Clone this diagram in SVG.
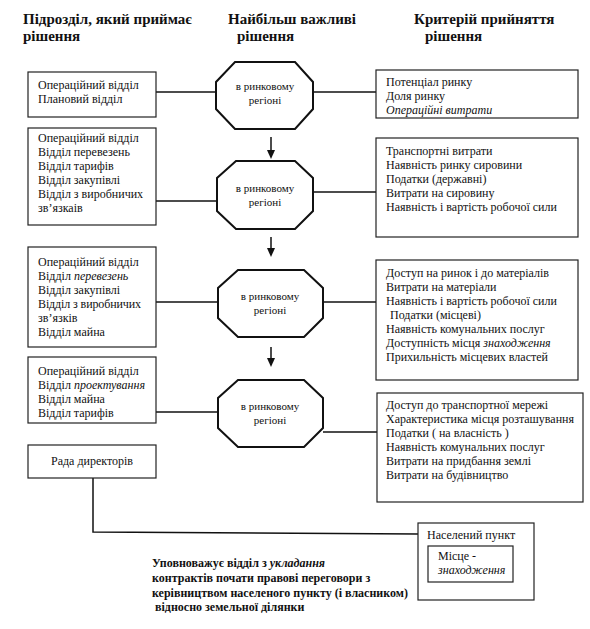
<svg xmlns="http://www.w3.org/2000/svg" width="590" height="629" viewBox="0 0 590 629" font-family="'Times New Roman', 'Liberation Serif', Tinos, 'DejaVu Serif', serif">
<style>
text{font-family:"Times New Roman","Liberation Serif",Tinos,"DejaVu Serif",serif;fill:#111}
.h{font-size:15px;font-weight:bold}
.t{font-size:12px}
.o{font-size:11px;text-anchor:middle}
.b{font-size:12px;font-weight:bold}
.i{font-style:italic}
.box{fill:none;stroke:#222;stroke-width:1.2}
.oct{fill:#fff;stroke:#111;stroke-width:2}
.ln{fill:none;stroke:#111;stroke-width:1.5}
.ah{fill:#111}
</style>
<rect width="590" height="629" fill="#fff"/>

<g id="headers">
<text class="h" x="23" y="24">Підрозділ,  який приймає</text>
<text class="h" x="23" y="41">рішення</text>
<text class="h" x="228" y="24">Найбільш  важливі</text>
<text class="h" x="237" y="41">рішення</text>
<text class="h" x="414" y="24">Критерій  прийняття</text>
<text class="h" x="425" y="41">рішення</text>
</g>

<g id="connectors">
<line class="ln" x1="156" y1="92" x2="216" y2="92"/>
<line class="ln" x1="313" y1="92" x2="376" y2="92"/>
<line class="ln" x1="156" y1="201" x2="217" y2="201"/>
<line class="ln" x1="313" y1="192" x2="376" y2="192"/>
<line class="ln" x1="156" y1="302" x2="218" y2="302"/>
<line class="ln" x1="323" y1="302" x2="376" y2="302"/>
<line class="ln" x1="156" y1="412" x2="218" y2="412"/>
<line class="ln" x1="323" y1="432" x2="377" y2="432"/>
<polyline class="ln" points="93,478 93,532 418,534"/>
<line class="ln" x1="271" y1="137" x2="271" y2="152"/>
<line class="ln" x1="271" y1="237" x2="271" y2="250"/>
<line class="ln" x1="271" y1="347" x2="271" y2="360"/>
<path class="ah" d="M267,150 L275,150 L271,159 Z"/>
<path class="ah" d="M267,248 L275,248 L271,257 Z"/>
<path class="ah" d="M267,358 L275,358 L271,367 Z"/>
</g>

<g id="left1">
<rect class="box" x="28" y="72" width="128" height="45"/>
<text class="t" x="38" y="89">Операційний відділ</text>
<text class="t" x="38" y="103">Плановий відділ</text>
</g>
<g id="left2">
<rect class="box" x="28" y="128" width="128" height="97"/>
<text class="t" x="38" y="142">Операційний відділ</text>
<text class="t" x="38" y="156">Відділ перевезень</text>
<text class="t" x="38" y="170">Відділ тарифів</text>
<text class="t" x="38" y="184">Відділ закупівлі</text>
<text class="t" x="38" y="198">Відділ з виробничих</text>
<text class="t" x="38" y="212">зв’язкаів</text>
</g>
<g id="left3">
<rect class="box" x="28" y="247" width="128" height="100"/>
<text class="t" x="38" y="266">Операційний відділ</text>
<text class="t" x="38" y="280">Відділ <tspan class="i">перевезень</tspan></text>
<text class="t" x="38" y="294">Відділ закупівлі</text>
<text class="t" x="38" y="308" textLength="103">Відділ  з  виробничих</text>
<text class="t" x="38" y="322">зв’язків</text>
<text class="t" x="38" y="336">Відділ майна</text>
</g>
<g id="left4">
<rect class="box" x="28" y="357" width="128" height="66"/>
<text class="t" x="38" y="375">Операційний відділ</text>
<text class="t" x="38" y="389">Відділ <tspan class="i">проектування</tspan></text>
<text class="t" x="38" y="403">Відділ майна</text>
<text class="t" x="38" y="417">Відділ тарифів</text>
</g>
<g id="rada">
<rect class="box" x="28" y="445" width="128" height="33"/>
<text class="t" x="92" y="465" text-anchor="middle">Рада директорів</text>
</g>

<g id="oct1">
<polygon class="oct" points="235,62 295,62 313,82 313,109 295,129 235,129 216,109 216,82"/>
<text class="o" x="265" y="90">в ринковому</text>
<text class="o" x="265" y="104">регіоні</text>
</g>
<g id="oct2">
<polygon class="oct" points="236,161 295,161 313,178 313,211 295,229 236,229 217,211 217,178"/>
<text class="o" x="265" y="192">в ринковому</text>
<text class="o" x="265" y="206">регіоні</text>
</g>
<g id="oct3">
<polygon class="oct" points="238,270 304,270 323,288 323,318 304,337 238,337 218,318 218,288"/>
<text class="o" x="270" y="300">в ринковому</text>
<text class="o" x="270" y="314">регіоні</text>
</g>
<g id="oct4">
<polygon class="oct" points="238,380 304,380 323,398 323,428 304,447 238,447 218,428 218,398"/>
<text class="o" x="270" y="410">в ринковому</text>
<text class="o" x="270" y="424">регіоні</text>
</g>

<g id="right1">
<rect class="box" x="376" y="70" width="202" height="48"/>
<text class="t" x="386" y="86">Потенціал ринку</text>
<text class="t" x="386" y="100">Доля  ринку</text>
<text class="t i" x="386" y="114">Операційні витрати</text>
</g>
<g id="right2">
<rect class="box" x="376" y="138" width="202" height="99"/>
<text class="t" x="386" y="155">Транспортні витрати</text>
<text class="t" x="386" y="169">Наявність ринку сировини</text>
<text class="t" x="386" y="183">Податки (державні)</text>
<text class="t" x="386" y="197">Витрати на сировину</text>
<text class="t" x="386" y="211">Наявність і вартість робочої сили</text>
</g>
<g id="right3">
<rect class="box" x="376" y="260" width="202" height="120"/>
<text class="t" x="386" y="277">Доступ на ринок і  до матеріалів</text>
<text class="t" x="386" y="291">Витрати на матеріали</text>
<text class="t" x="386" y="305">Наявність і вартість робочої сили</text>
<text class="t" x="390" y="319">Податки (місцеві)</text>
<text class="t" x="386" y="333">Наявність комунальних послуг</text>
<text class="t" x="386" y="347">Доступність місця <tspan class="i">знаходження</tspan></text>
<text class="t" x="386" y="361">Прихильність місцевих властей</text>
</g>
<g id="right4">
<rect class="box" x="377" y="393" width="206" height="109"/>
<text class="t" x="386" y="409">Доступ до транспортної мережі</text>
<text class="t" x="386" y="423">Характеристика місця розташування</text>
<text class="t" x="386" y="437">Податки ( на власність )</text>
<text class="t" x="386" y="451">Наявність комунальних послуг</text>
<text class="t" x="386" y="465">Витрати на придбання землі</text>
<text class="t" x="386" y="479">Витрати на будівництво</text>
</g>

<g id="settlement">
<rect class="box" x="418" y="523" width="116" height="77"/>
<text class="t" x="427" y="539">Населений пункт</text>
<rect class="box" x="428" y="546" width="85" height="36"/>
<text class="t" x="438" y="560">Місце -</text>
<text class="t i" x="438" y="574">знаходження</text>
</g>

<g id="note">
<text class="b" x="152" y="567">Уповноважує відділ з  <tspan class="i">укладання</tspan></text>
<text class="b" x="152" y="582">контрактів почати правові переговори з</text>
<text class="b" x="152" y="597">керівництвом населеного пункту (і власником)</text>
<text class="b" x="155" y="611">відносно земельної ділянки</text>
</g>
</svg>
